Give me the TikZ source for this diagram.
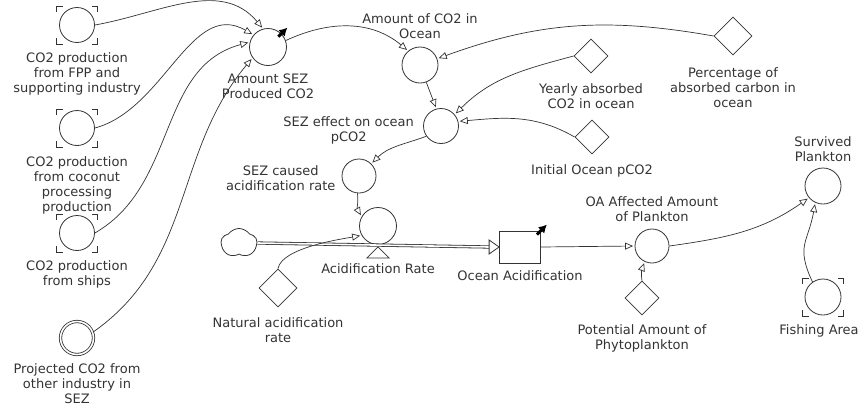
\documentclass[tikz,border=0pt]{standalone}
\usepackage{fontspec}
\setmainfont{DejaVu Sans}
\usetikzlibrary{positioning}
\usetikzlibrary{shapes.geometric,shapes.symbols}
\usetikzlibrary{arrows.meta}
\definecolor{ink}{gray}{0.2}
\tikzset{
	>={Triangle[open,length=8pt,width=7pt]},
	aux/.style={
		circle,
		draw=ink, line width=0.8pt,
		minimum size=35pt,
		inner sep=0pt},
	projected/.style={aux, double, double distance=1.6pt, minimum size=33pt},
	const/.style={
		diamond, aspect=1,
		draw=ink, line width=0.8pt,
		minimum size=34pt,
		inner sep=0pt},
	stock/.style={
		rectangle,
		draw=ink, line width=0.8pt,
		minimum width=41pt,
		minimum height=32pt},
	source/.style={
		cloud, cloud puffs=5, cloud puff arc=110, aspect=1.2,
		draw=ink, line width=0.8pt,
		minimum width=36pt, minimum height=29pt},
	txt/.style={font=\fontsize{13}{15}\selectfont, text=ink, align=center, inner sep=1pt},
	link/.style={->, draw=ink, line width=0.7pt, shorten >=1.5pt},
	pipe/.style={draw=ink, line width=0.8pt, double=white, double distance=1.6pt},
	outflag/.style={-{Latex[length=8pt,width=9pt]}, line width=3pt, black},
	markline/.style={draw=ink, line width=0.8pt},
}
% corner marks round a ghost variable
\newcommand{\ghostmarks}[1]{%
	\foreach \sx/\sy/\hx in {-1/1/6, 1/1/-6, -1/-1/6, 1/-1/-6}
		\draw[markline] ([shift={(\sx*20.5,\sy*13)}]#1.center) -- ++(0,\sy*6) -- ++(\hx,0);}

\begin{document}
\begin{tikzpicture}[x=1pt,y=1pt]
	\useasboundingbox (0,0) rectangle (860,-408);

	% sources of CO2
	\node[aux] (fpp) at (77,-25) {};
	\ghostmarks{fpp}
	\node[txt, below=9pt of fpp] (fpplab) {CO2 production\\from FPP and\\supporting industry};
	\node[aux] (coco) at (77,-128) {};
	\ghostmarks{coco}
	\node[txt, below=10pt of coco] (cocolab) {CO2 production\\from coconut\\processing\\production};
	\node[aux] (ships) at (77,-233) {};
	\ghostmarks{ships}
	\node[txt, below=9pt of ships] (shipslab) {CO2 production\\from ships};
	\node[projected] (proj) at (77,-338) {};
	\node[txt, below=7.5pt of proj] (projlab) {Projected CO2 from\\other industry in\\SEZ};

	% ocean chain
	\node[aux, minimum size=37pt] (sez) at (268,-47) {};
	\node[txt, below=7pt of sez] (sezlab) {Amount SEZ\\Produced CO2};
	\node[aux, minimum size=36pt] (oco) at (420,-65) {};
	\node[txt, above=7pt of oco] (ocolab) {Amount of CO2 in\\Ocean};
	\node[const] (yearly) at (591,-56) {};
	\node[txt, below=9.5pt of yearly] (yearlylab) {Yearly absorbed\\CO2 in ocean};
	\node[const, minimum size=38pt] (pct) at (733,-36) {};
	\node[txt, below=11pt of pct] (pctlab) {Percentage of\\absorbed carbon in\\ocean};
	\node[const] (init) at (592,-137) {};
	\node[txt, below=9.5pt of init] (initlab) {Initial Ocean pCO2};
	\node[aux] (sezeff) at (441,-126) {};
	\node[txt, left=8pt of sezeff, yshift=-4pt] (sezefflab) {SEZ effect on ocean\\pCO2};
	\node[aux, minimum size=34pt] (sezc) at (359,-176) {};
	\node[txt, left=5pt of sezc, yshift=-2pt] (sezclab) {SEZ caused\\acidification rate};

	% flow
	\node[source] (cloud) at (239,-243) {};
	\node[aux, minimum size=37pt] (valve) at (378,-226) {};
	\node[stock] (acc) at (520,-247) {};
	\node[txt, below=6.5pt of acc] (acclab) {Ocean Acidification};
	\coordinate (pipeend) at ([xshift=-10pt]acc.west);
	\draw[pipe] (cloud.east) -- (pipeend);
	\draw[draw=ink, line width=0.8pt, fill=white] (acc.west) -- ++(-10,7) -- ++(0,-14) -- cycle;
	\draw[draw=ink, line width=0.8pt, fill=white] ([yshift=-2pt]valve.south) -- ++(11,-11) -- ++(-22,0) -- cycle;
	\coordinate (valvefoot) at ([yshift=-13pt]valve.south);
	\node[txt, below=4.5pt of valvefoot] (valvelab) {Acidification Rate};
	\node[const, minimum size=38pt] (natural) at (278,-288) {};
	\node[txt, below=9.5pt of natural] (naturallab) {Natural acidification\\rate};

	% plankton
	\node[aux, minimum size=34pt] (oaa) at (652,-246) {};
	\node[txt, above=6pt of oaa] (oaalab) {OA Affected Amount\\of Plankton};
	\node[const] (pot) at (642,-298) {};
	\node[txt, below=8.5pt of pot] (potlab) {Potential Amount of\\Phytoplankton};
	\node[aux, minimum size=36pt] (surv) at (823,-186) {};
	\node[txt, above=5pt of surv] (survlab) {Survived\\Plankton};
	\node[aux, minimum size=36pt] (fish) at (823,-297) {};
	\ghostmarks{fish}
	\node[txt, below=8.5pt of fish, xshift=-4pt] (fishlab) {Fishing Area};

	% output flags
	\draw[outflag] ([shift={(-3,-3)}]sez.north east) -- ++(9,9);
	\draw[outflag] ([shift={(-4,-4)}]acc.north east) -- ++(10,10);

	% links
	\draw[link] (fpp.east) to[out=10,in=130] (sez.105);
	\draw[link] (coco.east) to[out=15,in=150] (sez.140);
	\draw[link] (ships.east) to[out=30,in=195] (sez.165);
	\draw[link] (proj.20) to[out=35,in=230] (sez.215);
	\draw[link] (sez.20) to[out=25,in=140] (oco.130);
	\draw[link] (pct.west) to[out=170,in=20] (oco.20);
	\draw[link] (oco.-70) -- (sezeff.105);
	\draw[link] (yearly.west) to[out=195,in=45] (sezeff.40);
	\draw[link] (init.west) to[out=150,in=5] (sezeff.15);
	\draw[link] (sezeff.215) to[out=200,in=45] (sezc.45);
	\draw[link] (sezc.-95) to[out=-85,in=120] (valve.150);
	\draw[link] (natural.north) to[out=80,in=190,looseness=0.6] (valve.210);
	\draw[link] (acc.east) -- (oaa.west);
	\draw[link] (pot.north) to[out=100,in=250] (oaa.245);
	\draw[link] (oaa.east) to[out=8,in=215] (surv.220);
	\draw[link] (fish.125) to[out=115,in=260,looseness=1.3] (surv.245);
\end{tikzpicture}
\end{document}
